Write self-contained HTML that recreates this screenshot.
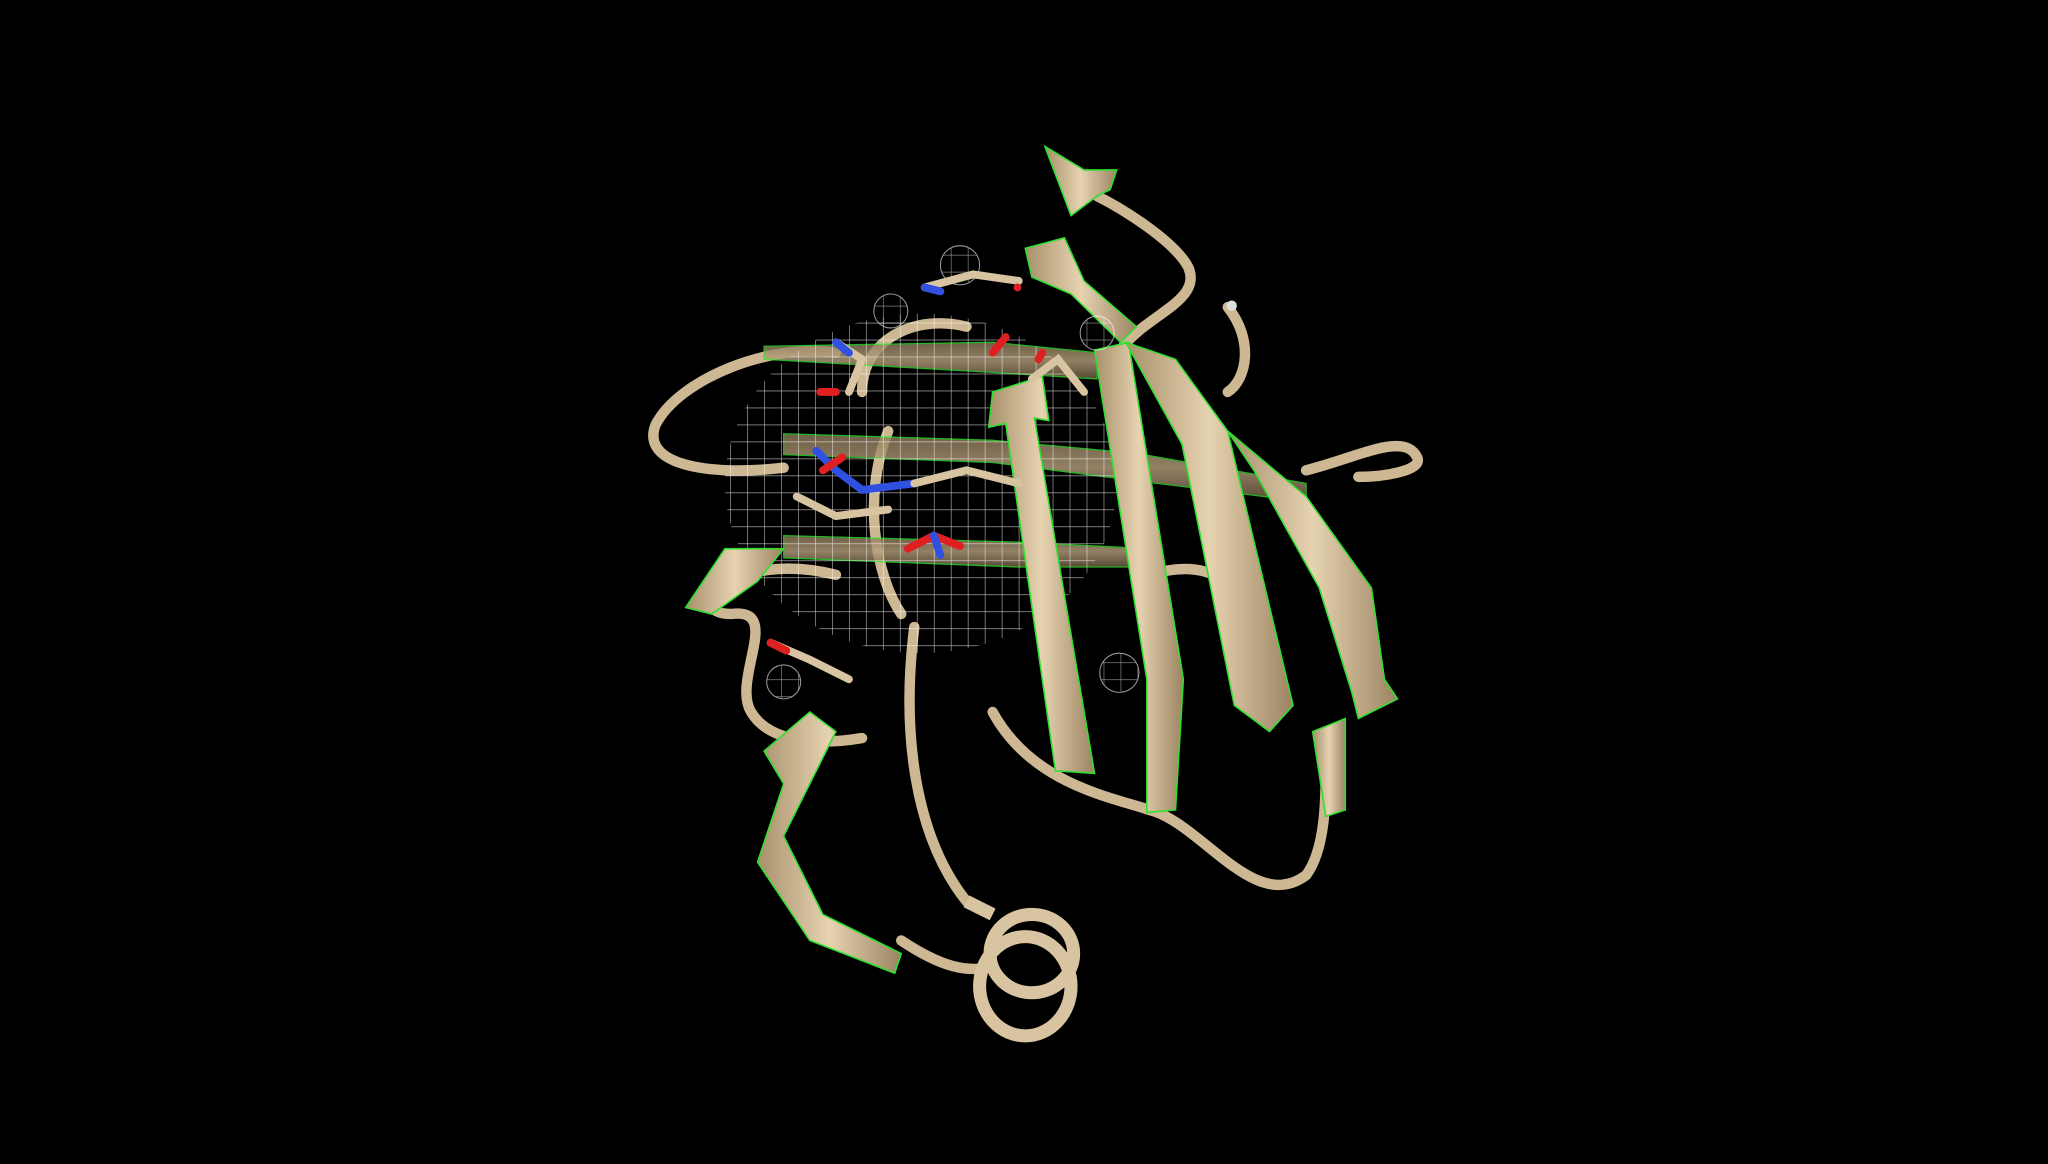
<!DOCTYPE html>
<html><head><meta charset="utf-8"><style>
html,body{margin:0;padding:0;background:#000;width:2048px;height:1164px;overflow:hidden}
svg{display:block}
</style></head><body>
<svg width="2048" height="1164" viewBox="0 0 1568 891" xmlns="http://www.w3.org/2000/svg">
<defs>
<linearGradient id="tan" x1="0" y1="0" x2="1" y2="0">
<stop offset="0" stop-color="#a8906c"/><stop offset="0.5" stop-color="#e6d3b0"/><stop offset="1" stop-color="#9c8462"/>
</linearGradient>
<linearGradient id="tandark" x1="0" y1="0" x2="0" y2="1">
<stop offset="0" stop-color="#8a7658"/><stop offset="0.5" stop-color="#b8a27e"/><stop offset="1" stop-color="#6e5c44"/>
</linearGradient>
<clipPath id="meshclip"><ellipse cx="705" cy="370" rx="150" ry="130"/></clipPath>
<pattern id="grid" width="13" height="13" patternUnits="userSpaceOnUse">
<path d="M13 0 L0 0 0 13" fill="none" stroke="#ffffff" stroke-width="0.9"/>
</pattern>
</defs>
<rect width="1568" height="891" fill="#000"/>
<g fill="none" stroke="#cdb893" stroke-linecap="round" stroke-width="8">
<path d="M640 270 C590 262 520 290 502 325 C490 355 540 365 600 358"/>
<path d="M640 440 C560 420 520 470 560 470 C600 465 560 520 575 545 C590 570 630 570 660 565"/>
<path d="M700 480 C690 560 700 640 740 690"/>
<path d="M690 720 C720 740 740 745 760 740"/>
<path d="M760 545 C790 600 850 610 880 620 C920 630 960 700 1000 670 C1015 650 1015 610 1015 590"/>
<path d="M860 265 C880 240 920 230 910 205 C900 185 860 160 840 150"/>
<path d="M940 235 C960 260 955 290 940 300"/>
<path d="M1000 360 C1040 350 1075 330 1085 350 C1090 360 1060 365 1040 365"/>
<path d="M880 440 C930 425 950 450 960 480"/>
<path d="M660 300 C660 260 700 240 740 250"/>
<path d="M680 330 C660 380 670 440 690 470"/>
</g>
<g fill="none" stroke="#d8c4a0" stroke-width="10">
<ellipse cx="785" cy="755" rx="35" ry="38"/>
<ellipse cx="790" cy="730" rx="32" ry="30"/>
<path d="M740 690 L760 700"/>
</g>
<g fill="url(#tandark)" stroke="#2ee02e" stroke-width="1" opacity="0.8">
<polygon points="585,265 760,262 840,270 840,290 760,285 585,275"/>
<polygon points="600,332 760,337 870,347 1000,370 1000,384 870,368 760,354 600,348"/>
<polygon points="600,410 780,415 880,420 880,434 780,434 600,427"/>
</g>
<g clip-path="url(#meshclip)" opacity="0.75">
<rect x="550" y="235" width="310" height="275" fill="url(#grid)"/>
</g>
<g fill="url(#tan)" stroke="#2ee02e" stroke-width="1.2">
<polygon points="760,300 798,288 803,322 792,320 838,592 808,590 770,324 757,327"/>
<polygon points="838,268 864,262 906,520 900,620 878,622 878,520"/>
<polygon points="862,262 900,275 940,330 990,540 972,560 945,540 905,340"/>
<polygon points="940,330 1000,380 1050,450 1060,520 1070,535 1040,550 1035,530 1010,450 960,360"/>
<polygon points="800,112 830,130 855,130 850,145 840,150 820,165"/>
<polygon points="785,190 815,182 830,215 870,250 858,262 820,225 790,212"/>
<polygon points="585,575 620,545 640,560 600,640 630,700 690,730 685,745 620,720 580,660 600,600"/>
<polygon points="1005,560 1030,550 1030,620 1015,625"/>
<polygon points="525,465 555,420 600,420 580,445 545,470"/>
</g>
<g fill="url(#grid)" stroke="#ffffff" stroke-width="0.8" opacity="0.6">
<circle cx="735" cy="203" r="15"/><circle cx="682" cy="238" r="13"/><circle cx="857" cy="515" r="15"/><circle cx="600" cy="522" r="13"/><circle cx="840" cy="255" r="13"/>
</g>
<g stroke-linecap="round" stroke-width="6" fill="none">
<path d="M708 220 L745 210 L780 215" stroke="#d8c4a0"/>
<path d="M708 220 L720 223" stroke="#3050e0"/>
<path d="M640 262 L660 275 L650 300" stroke="#d8c4a0"/>
<path d="M640 262 L650 270" stroke="#3050e0"/>
<path d="M628 300 L640 300" stroke="#e02020"/>
<path d="M625 345 L640 360 L660 375 L700 370" stroke="#3050e0"/>
<path d="M700 370 L740 360 L780 370" stroke="#d8c4a0"/>
<path d="M695 420 L715 410 L735 418" stroke="#e02020"/>
<path d="M715 410 L720 425" stroke="#3050e0"/>
<path d="M590 492 L620 505 L650 520" stroke="#d8c4a0"/>
<path d="M590 492 L602 498" stroke="#e02020"/>
<path d="M760 270 L770 258" stroke="#e02020"/>
<path d="M610 380 L640 395 L680 390" stroke="#d8c4a0"/>
<path d="M630 360 L645 350" stroke="#e02020"/>
<path d="M790 290 L810 275 L830 300" stroke="#d8c4a0"/>
<path d="M795 275 L798 270" stroke="#e02020"/>
</g>
<circle cx="943" cy="234" r="4" fill="#ddd"/>
<circle cx="779" cy="220" r="3" fill="#e02020"/>
</svg>
</body></html>
